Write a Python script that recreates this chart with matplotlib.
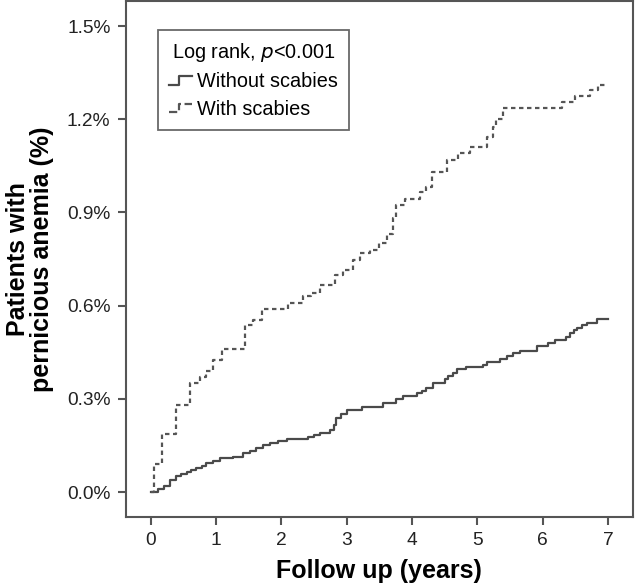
import matplotlib.pyplot as plt
from matplotlib.lines import Line2D
from matplotlib.legend_handler import HandlerBase
from matplotlib.ticker import FuncFormatter

plt.rcParams["font.family"] = ["Liberation Sans", "DejaVu Sans"]

# cumulative incidence (%), step change points
years_without = [0.0, 0.11, 0.20, 0.29, 0.39, 0.47, 0.55, 0.62, 0.70, 0.78,
                 0.85, 0.95, 1.06, 1.26, 1.41, 1.52, 1.62, 1.72, 1.82, 1.95,
                 2.08, 2.41, 2.50, 2.59, 2.74, 2.80, 2.84, 2.92, 3.00, 3.23,
                 3.55, 3.76, 3.86, 4.07, 4.15, 4.22, 4.32, 4.50, 4.55, 4.62,
                 4.68, 4.83, 5.09, 5.14, 5.35, 5.45, 5.55, 5.65, 5.91, 6.08,
                 6.19, 6.36, 6.42, 6.47, 6.52, 6.60, 6.67, 6.75, 6.83, 7.0]
pct_without = [0.0, 0.010, 0.020, 0.039, 0.050, 0.057, 0.064, 0.071, 0.078, 0.085,
               0.093, 0.100, 0.108, 0.114, 0.124, 0.133, 0.141, 0.150, 0.157, 0.164,
               0.170, 0.176, 0.184, 0.191, 0.200, 0.215, 0.237, 0.252, 0.264, 0.275,
               0.286, 0.300, 0.310, 0.318, 0.326, 0.334, 0.350, 0.363, 0.375, 0.382,
               0.395, 0.401, 0.409, 0.419, 0.428, 0.438, 0.446, 0.455, 0.470, 0.479,
               0.489, 0.500, 0.511, 0.520, 0.527, 0.536, 0.543, 0.545, 0.558, 0.558]

years_with = [0.0, 0.05, 0.18, 0.39, 0.60, 0.75, 0.85, 0.95, 1.10, 1.44,
              1.56, 1.70, 2.10, 2.33, 2.45, 2.59, 2.82, 2.95, 3.10, 3.20,
              3.35, 3.50, 3.62, 3.71, 3.76, 3.89, 4.12, 4.22, 4.30, 4.53,
              4.70, 4.88, 5.14, 5.24, 5.29, 5.39, 6.29, 6.49, 6.72, 6.85,
              7.0]
pct_with = [0.0, 0.09, 0.187, 0.28, 0.35, 0.37, 0.39, 0.425, 0.46, 0.537,
            0.553, 0.59, 0.61, 0.63, 0.64, 0.666, 0.70, 0.714, 0.747, 0.77,
            0.78, 0.80, 0.83, 0.881, 0.924, 0.942, 0.967, 0.983, 1.031, 1.068,
            1.09, 1.11, 1.144, 1.176, 1.20, 1.236, 1.256, 1.275, 1.294, 1.31,
            1.31]

y_ticks = [0.0, 0.3, 0.6, 0.9, 1.2, 1.5]
x_ticks = [0, 1, 2, 3, 4, 5, 6, 7]

gray = "#4a4a4a"


class StepHandler(HandlerBase):
    def create_artists(self, legend, orig_handle, xdescent, ydescent,
                       width, height, fontsize, trans):
        h = height * 0.3
        y0 = height / 2 - ydescent
        xs = [-xdescent, -xdescent + width * 0.45, -xdescent + width * 0.45,
              -xdescent + width]
        ys = [y0 - h, y0 - h, y0 + h, y0 + h]
        line = Line2D(xs, ys, color=orig_handle.get_color(),
                      linestyle=orig_handle.get_linestyle(),
                      linewidth=orig_handle.get_linewidth())
        line.set_transform(trans)
        return [line]


fig = plt.figure(figsize=(6.35, 5.88), dpi=100)
ax = fig.add_axes([0.198, 0.121, 0.799, 0.877])

l1, = ax.step(years_without, pct_without, where="post", color=gray, lw=1.6,
              label="Without scabies")
l2, = ax.step(years_with, pct_with, where="post", color="#555555", lw=1.6,
              linestyle=(0, (2.0, 1.6)), label="With scabies")

ax.set_xlim(-0.38, 7.38)
ax.set_ylim(-0.08, 1.58)
ax.set_xticks(x_ticks)
ax.set_yticks(y_ticks)
ax.yaxis.set_major_formatter(FuncFormatter(lambda v, p: f"{v:.1f}%"))

for s in ax.spines.values():
    s.set_color("#555555")
    s.set_linewidth(1.5)
ax.tick_params(direction="out", length=6, width=1.5, color="#555555",
               labelsize=13.8, labelcolor="#222222", pad=5)
ax.tick_params(top=False, right=False)

ax.set_xlabel("Follow up (years)", fontsize=18, fontweight="bold", labelpad=7)
ax.set_ylabel("Patients with\npernicious anemia (%)", fontsize=18,
              fontweight="bold", labelpad=9, linespacing=1.05)

leg = ax.legend(handles=[l1, l2], title="Log rank, $\\it{p}$<0.001",
                loc="upper left", bbox_to_anchor=(0.063, 0.944), borderaxespad=0,
                fontsize=14.3, title_fontsize=14.3, frameon=True, fancybox=False,
                edgecolor="#444444", handlelength=1.2, handletextpad=0.25,
                borderpad=0.55, labelspacing=0.42,
                handler_map={Line2D: StepHandler()})
leg.get_frame().set_linewidth(1.3)

fig.savefig("out.png", dpi=100)
